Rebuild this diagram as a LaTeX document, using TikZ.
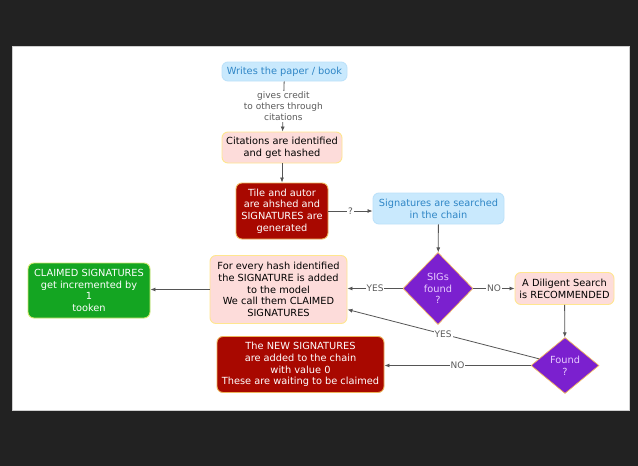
\documentclass[tikz,border=0pt]{standalone}
\usepackage{fontspec}
\setmainfont{DejaVu Sans}
\usetikzlibrary{shapes.geometric,arrows.meta,calc}
\definecolor{bgdark}{HTML}{222222}
\definecolor{panelline}{HTML}{CFCFCF}
\definecolor{boxblue}{HTML}{C9E9FD}
\definecolor{boxblueline}{HTML}{BDE2FA}
\definecolor{txtblue}{HTML}{2F86C6}
\definecolor{boxpink}{HTML}{FDDCDA}
\definecolor{pinkline}{HTML}{FFE68F}
\definecolor{darkred}{HTML}{A80800}
\definecolor{redline}{HTML}{EDB45A}
\definecolor{purp}{HTML}{7B20CF}
\definecolor{purptxt}{HTML}{E8CCFF}
\definecolor{purpline}{HTML}{F2B860}
\definecolor{grn}{HTML}{14A522}
\definecolor{grnline}{HTML}{CFE86A}
\definecolor{arrgray}{HTML}{555555}
\definecolor{lblgray}{HTML}{5A5A5A}
\begin{document}
\begin{tikzpicture}[x=1pt,y=-1pt,
  base/.style={rounded corners=6pt, align=center, inner sep=0pt, line width=0.9pt,
    font=\fontsize{9.8}{11.8}\selectfont},
  bluebox/.style={base, fill=boxblue, draw=boxblueline, text=txtblue},
  pinkbox/.style={base, fill=boxpink, draw=pinkline, text=black},
  redbox/.style={base, fill=darkred, draw=redline, text=white},
  greenbox/.style={base, fill=grn, draw=grnline, text=white},
  decision/.style={diamond, aspect=1, inner sep=0pt, align=center, fill=purp, draw=purpline,
    line width=0.7pt, text=purptxt, font=\fontsize{9.8}{11.8}\selectfont},
  arr/.style={draw=arrgray, line width=0.8pt, -{Latex[length=5pt,width=4pt]}},
  lbl/.style={fill=white, text=lblgray, align=center, inner sep=1pt,
    font=\fontsize{9}{11}\selectfont}
]
\useasboundingbox (0,0) rectangle (638,466);
\fill[bgdark] (0,0) rectangle (638,466);
\draw[panelline, fill=white, line width=1pt] (12.5,46.5) rectangle (629.5,410.5);

\node[bluebox, minimum width=125pt, minimum height=19pt] (writes) at (284.5,71.5) {Writes the paper / book};
\node[pinkbox, minimum width=120pt, minimum height=31pt] (cit) at (282,147.5) {Citations are identified\\and get hashed};
\node[redbox, minimum width=92pt, minimum height=56pt] (tile) at (282,211) {Tile and autor\\are ahshed and\\SIGNATURES are\\generated};
\node[bluebox, minimum width=131pt, minimum height=31pt] (search) at (438.5,208.5) {Signatures are searched\\in the chain};
\node[decision, minimum width=70pt, minimum height=72pt] (sigs) at (438,288.5) {SIGs\\found\\?};
\node[pinkbox, minimum width=99pt, minimum height=32pt] (dili) at (564.5,288.5) {A Diligent Search\\is RECOMMENDED};
\node[decision, minimum width=68pt, minimum height=56pt] (found) at (565,365.5) {Found\\?};
\node[pinkbox, minimum width=137pt, minimum height=68pt] (claimed) at (278.5,289.5) {For every hash identified\\the SIGNATURE is added\\to the model\\We call them CLAIMED\\SIGNATURES};
\node[greenbox, minimum width=122pt, minimum height=55pt] (green) at (89,290.5) {CLAIMED SIGNATURES\\get incremented by\\1\\tooken};
\node[redbox, minimum width=167pt, minimum height=56pt] (newsig) at (300.5,364.5) {The NEW SIGNATURES\\are added to the chain\\with value 0\\These are waiting to be claimed};
\coordinate (cin) at ($(claimed.east)+(0,20)$);

\draw[arr] (writes) -- node[lbl]{gives credit\\to others through\\citations} (cit);
\draw[arr] (cit) -- (tile);
\draw[arr] (tile) -- node[lbl]{?} (tile -| search.west);
\draw[arr] (search) -- (sigs);
\draw[arr] (sigs) -- node[lbl]{YES} (sigs -| claimed.east);
\draw[arr] (sigs) -- node[lbl]{NO} (sigs -| dili.west);
\draw[arr] (dili) -- (found);
\draw[arr] (found) -- node[lbl]{YES} (cin);
\draw[arr] (found) -- node[lbl]{NO} (found -| newsig.east);
\draw[arr] (claimed.west) -- (claimed.west -| green.east);
\end{tikzpicture}
\end{document}
